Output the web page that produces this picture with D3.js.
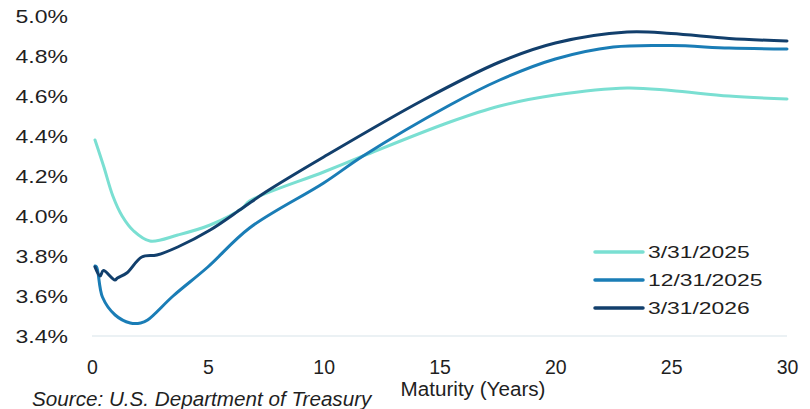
<!DOCTYPE html>
<html>
<head>
<meta charset="utf-8">
<script src="https://cdn.jsdelivr.net/npm/d3@7"></script>
<style>
  html, body { margin: 0; padding: 0; background: #fff; }
  svg { display: block; font-family: "Liberation Sans", Arial, sans-serif; }
</style>
</head>
<body>
<svg id="chart" width="810" height="409"></svg>
<script>
// Treasury yield curves: maturity (years) and yield (%)
const mat2025Mar = [0.13, 0.5, 0.9, 1.3, 1.8, 2.5, 3.7, 5.1, 6.5, 6.8, 10, 11.7, 15.45, 17.6, 20, 23.1, 25, 27.5, 30];
const yld2025Mar = [4.38, 4.25, 4.10, 4.00, 3.925, 3.875, 3.905, 3.955, 4.04, 4.075, 4.22, 4.30, 4.47, 4.55, 4.605, 4.64, 4.627, 4.60, 4.585];

const mat2025Dec = [0.13, 0.2, 0.45, 1.0, 1.65, 2.1, 2.4, 3.5, 5, 6.8, 10, 11.7, 15.45, 17.6, 20, 22.5, 25, 27.5, 30];
const yld2025Dec = [3.75, 3.745, 3.595, 3.505, 3.465, 3.465, 3.48, 3.60, 3.745, 3.94, 4.165, 4.30, 4.555, 4.68, 4.785, 4.845, 4.852, 4.84, 4.835];

const mat2026Mar = [0.13, 0.35, 0.49, 0.99, 1.1, 1.5, 2.15, 2.8, 3.7, 5.1, 6.5, 7.5, 10, 14.3, 17.6, 20, 23.1, 25, 27.5, 30];
const yld2026Mar = [3.745, 3.70, 3.727, 3.68, 3.69, 3.715, 3.795, 3.805, 3.845, 3.93, 4.04, 4.12, 4.295, 4.58, 4.77, 4.865, 4.92, 4.913, 4.888, 4.875];

const seriesNames = ["3/31/2025", "12/31/2025", "3/31/2026"];
const seriesColors = ["#7ADFD2", "#1A7DB6", "#123F6C"];
const xTicks = [0, 5, 10, 15, 20, 25, 30];
const yTicks = [3.4, 3.6, 3.8, 4.0, 4.2, 4.4, 4.6, 4.8, 5.0];

const series = [
  { name: seriesNames[0], color: seriesColors[0], pts: mat2025Mar.map((m, i) => [m, yld2025Mar[i]]) },
  { name: seriesNames[1], color: seriesColors[1], pts: mat2025Dec.map((m, i) => [m, yld2025Dec[i]]) },
  { name: seriesNames[2], color: seriesColors[2], pts: mat2026Mar.map((m, i) => [m, yld2026Mar[i]]) }
];

const svg = d3.select("#chart");
const textColor = "#1f1f1f";

const x = d3.scaleLinear().domain([0, 30]).range([92, 787]);
const y = d3.scaleLinear().domain([3.4, 5.0]).range([336, 16]);

// baseline rule
svg.append("line")
  .attr("x1", x(0)).attr("x2", x(30))
  .attr("y1", y(3.4)).attr("y2", y(3.4))
  .attr("stroke", "#e4edf1").attr("stroke-width", 1.5);

// y axis labels (horizontally widened type)
const yAxis = svg.append("g")
  .attr("transform", `translate(${x(0)},0)`)
  .call(d3.axisLeft(y).tickValues(yTicks).tickFormat(d => d.toFixed(1) + "%").tickSize(0).tickPadding(0));
yAxis.select(".domain").remove();
yAxis.selectAll("text")
  .attr("x", -24 / 1.3)
  .attr("dy", "0.36em")
  .attr("transform", "scale(1.3,1)")
  .attr("fill", textColor)
  .style("font-size", "17.7px")
  .style("font-family", "'Liberation Sans', Arial, sans-serif");

// x axis labels
const xAxis = svg.append("g")
  .attr("transform", `translate(0,${y(3.4)})`)
  .call(d3.axisBottom(x).tickValues(xTicks).tickFormat(d3.format("d")).tickSize(0).tickPadding(0));
xAxis.select(".domain").remove();
xAxis.selectAll("text")
  .attr("y", 38)
  .attr("dy", 0)
  .attr("fill", textColor)
  .style("font-size", "19.5px")
  .style("font-family", "'Liberation Sans', Arial, sans-serif");

// curves
const line = d3.line()
  .x(d => x(d[0]))
  .y(d => y(d[1]))
  .curve(d3.curveCatmullRom.alpha(0.5));

svg.append("g").selectAll("path")
  .data(series)
  .join("path")
  .attr("d", d => line(d.pts))
  .attr("fill", "none")
  .attr("stroke", d => d.color)
  .attr("stroke-width", 3)
  .attr("stroke-linejoin", "round")
  .attr("stroke-linecap", "round");

// legend
const legend = svg.append("g").attr("transform", "translate(595,252)");
const items = legend.selectAll("g")
  .data(series)
  .join("g")
  .attr("transform", (d, i) => `translate(0,${i * 28})`);
items.append("line")
  .attr("x1", 0).attr("x2", 48)
  .attr("stroke", d => d.color)
  .attr("stroke-width", 3.5)
  .attr("stroke-linecap", "round");
items.append("text")
  .attr("transform", "translate(53,6) scale(1.33,1)")
  .attr("fill", textColor)
  .style("font-size", "17.2px")
  .text(d => d.name);

// axis title
svg.append("text")
  .attr("transform", "translate(473,396) scale(1.06,1)")
  .attr("text-anchor", "middle")
  .attr("fill", textColor)
  .style("font-size", "19.5px")
  .text("Maturity (Years)");

// source note
svg.append("text")
  .attr("transform", "translate(32,406) scale(1.06,1)")
  .attr("fill", textColor)
  .style("font-size", "19.5px")
  .style("font-style", "italic")
  .text("Source: U.S. Department of Treasury");
</script>
</body>
</html>
